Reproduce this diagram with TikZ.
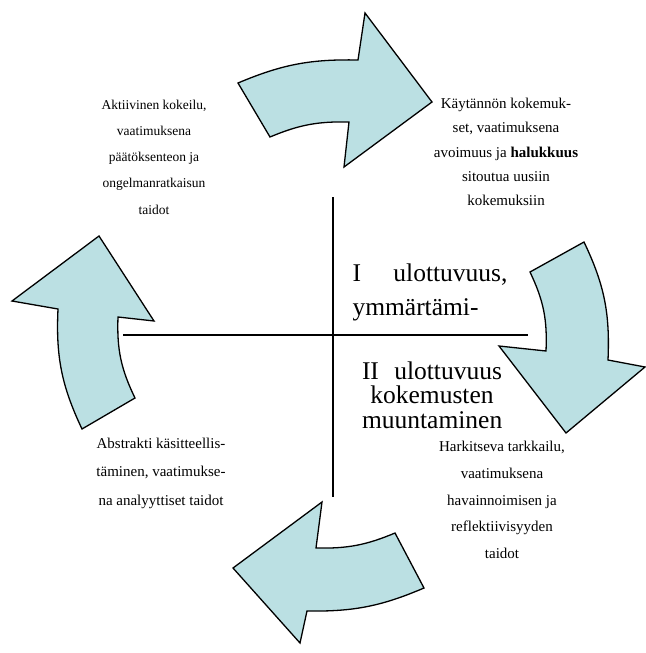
\documentclass[tikz,border=0pt]{standalone}
\usepackage{fontspec}
\setmainfont{Liberation Serif}
\definecolor{arrowblue}{RGB}{187,224,227}
\tikzset{
	kaari/.style={draw=black, line width=1.3pt, fill=arrowblue, line join=miter},
	akseli/.style={draw=black, line width=1.3pt},
	teksti/.style={align=center, inner sep=0pt, font=\fontsize{13.5}{26.3}\selectfont},
	iso/.style={inner sep=0pt, font=\fontsize{25.5}{34}\selectfont}
}

\begin{document}
\begin{tikzpicture}[x=1pt, y=-1pt]
				\useasboundingbox (0,0) rectangle (645,653);
				% nuolet
				\draw[kaari] (238,83) to[bend left=12] (358,60) -- (365,13) -- (432,102) -- (344,167) -- (349,122) to[bend right=12] (270,137) -- cycle;
				\draw[kaari] (584,242) to[bend left=14] (608,360) -- (645,367) -- (566,433) -- (499,346) -- (546,351) to[bend right=14] (530,272) -- cycle;
				\draw[kaari] (424,588) to[bend left=12] (307,611) -- (300,643) -- (233,568) -- (322,502) -- (316,548) to[bend right=12] (395,533) -- cycle;
				\draw[kaari] (82,429) to[bend left=14] (58,309) -- (12,301) -- (99,236) -- (154,321) -- (118,317) to[bend right=14] (135,398) -- cycle;
				% akselit
				\coordinate (ylos) at (333,197);
				\coordinate (alas) at (333,497);
				\coordinate (vasen) at (123,335);
				\coordinate (oikea) at (528,335);
				\draw[akseli] (ylos) -- (alas);
				\draw[akseli] (vasen) -- (oikea);
				% tekstit
				\node[teksti] (AK) at (154,157) {Aktiivinen kokeilu,\\vaatimuksena\\päätöksenteon ja\\ongelmanratkaisun\\taidot};
				\node[teksti, font=\fontsize{15}{24.3}\selectfont] (KK) at (506,152) {Käytännön kokemuk-\\set, vaatimuksena\\avoimuus ja \textbf{halukkuus}\\sitoutua uusiin\\kokemuksiin};
				\node[teksti, font=\fontsize{15}{28.5}\selectfont] (AKS) at (161,473) {Abstrakti käsitteellis-\\täminen, vaatimukse-\\na analyyttiset taidot};
				\node[teksti, font=\fontsize{15}{26.7}\selectfont] (HT) at (502,500) {Harkitseva tarkkailu,\\vaatimuksena\\havainnoimisen ja\\reflektiivisyyden\\taidot};
				\node[iso, text width=155pt, align=left] (U1) at (430,292) {I\hfill ulottuvuus,\\ymmärtämi-};
				\node[iso, text width=140pt, align=center, font=\fontsize{25.5}{24.5}\selectfont] (U2) at (432,395) {II\hfill ulottuvuus\\kokemusten\\muuntaminen};
			\end{tikzpicture}
\end{document}
